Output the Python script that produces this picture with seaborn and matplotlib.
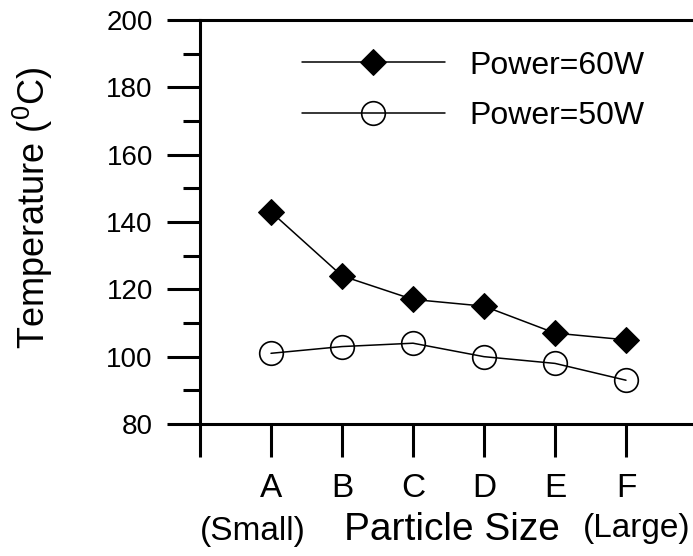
import matplotlib
matplotlib.use("Agg")
import matplotlib.pyplot as plt
import seaborn as sns
import numpy as np
import pandas as pd

categories = ["A", "B", "C", "D", "E", "F"]
power60 = [143, 124, 117, 115, 107, 105]
power50 = [101, 103, 104, 100, 98, 93]
series_labels = ["Power=60W", "Power=50W"]
y_ticks = [80, 100, 120, 140, 160, 180, 200]

sns.set_theme(style="ticks", rc={"text.color": "black", "axes.labelcolor": "black",
                                 "xtick.color": "black", "ytick.color": "black",
                                 "axes.edgecolor": "black"})
plt.rcParams["font.family"] = ["Liberation Sans", "DejaVu Sans"]
plt.rcParams["mathtext.fontset"] = "custom"
plt.rcParams["mathtext.rm"] = "Liberation Sans"
plt.rcParams["mathtext.it"] = "Liberation Sans"

fig = plt.figure(figsize=(6.93, 5.56), dpi=100)
ax = fig.add_axes([200 / 693, 132 / 556, 497 / 693, 404 / 556])

xpos = list(range(len(categories)))
df = pd.DataFrame({"x": xpos, "p60": power60, "p50": power50})

sns.lineplot(data=df, x="x", y="p60", ax=ax, color="black", linewidth=1.1,
             marker="D", markersize=13.5, markerfacecolor="black",
             markeredgecolor="black", label=series_labels[0])
sns.lineplot(data=df, x="x", y="p50", ax=ax, color="black", linewidth=1.1,
             marker="o", markersize=17, markerfacecolor="none",
             markeredgecolor="black", markeredgewidth=1.2, label=series_labels[1])

ax.set_xlim(-1, 6)
ax.set_ylim(80, 200)
ax.set_xticks([-1] + xpos)
ax.set_xticklabels([""] + categories, fontsize=24, color="black")
ax.set_yticks(y_ticks)
ax.set_yticklabels([str(v) for v in y_ticks], fontsize=20, color="black")
ax.set_yticks(np.arange(90, 200, 20), minor=True)

for s in ["left", "bottom", "top"]:
    ax.spines[s].set_linewidth(2.2)
    ax.spines[s].set_color("black")
ax.spines["right"].set_visible(False)

ax.tick_params(axis="both", which="major", direction="out", length=24, width=2.2, color="black")
ax.tick_params(axis="y", which="minor", direction="out", length=12, width=2.2, color="black")
ax.tick_params(axis="y", which="major", pad=10)
ax.tick_params(axis="x", which="major", pad=11)

ax.set_xlabel("")
ax.set_ylabel("Temperature ($^{\\mathrm{0}}$C)", fontsize=26, color="black")
ax.yaxis.set_label_coords(-0.292, 0.535)

ax.text(0.506, -0.287, "Particle Size", transform=ax.transAxes, fontsize=28,
        ha="center", va="baseline", color="black")
ax.text(0.106, -0.287, "(Small)", transform=ax.transAxes, fontsize=24,
        ha="center", va="baseline", color="black")
ax.text(0.878, -0.280, "(Large)", transform=ax.transAxes, fontsize=24,
        ha="center", va="baseline", color="black")

leg = ax.legend(loc="upper left", bbox_to_anchor=(0.179, 0.956), frameon=False,
                fontsize=23, handlelength=4.47, handletextpad=0.78, labelspacing=0.64,
                borderaxespad=0)
for t in leg.get_texts():
    t.set_color("black")

fig.savefig("out.png", dpi=100)
